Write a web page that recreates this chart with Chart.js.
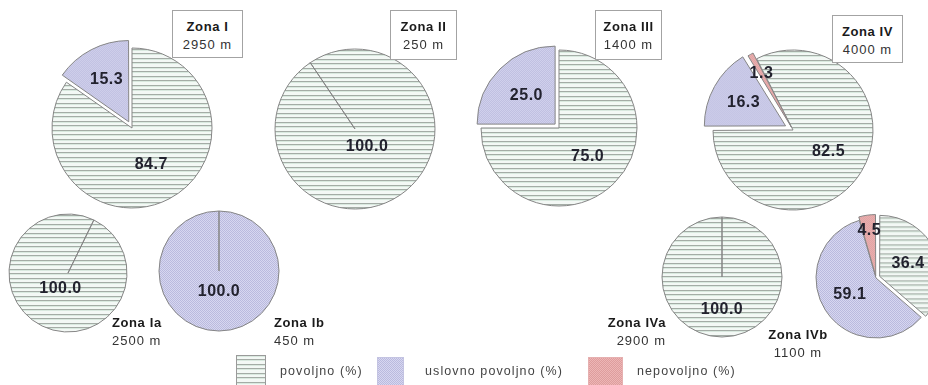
<!DOCTYPE html>
<html>
<head>
<meta charset="utf-8">
<script src="https://cdn.jsdelivr.net/npm/chart.js@4.4.0/dist/chart.umd.min.js"></script>
<style>
  body { margin: 0; background: #fff; }
  #wrap { position: relative; width: 928px; height: 385px; overflow: hidden; font-family: "Liberation Sans", Arial, sans-serif; }
  canvas.pie { position: absolute; }
  .zone { position: absolute; color: #222; font-size: 13px; line-height: 18px; letter-spacing: 0.6px; white-space: nowrap; z-index: 5; }
  .zone b { display: block; color: #1a1a1a; }
  .zone span { display: block; color: #333; letter-spacing: 1px; }
  .box { border: 1px solid #a3a3a3; background: #fff; text-align: center; padding-top: 7px; box-sizing: border-box; }
  .sw { position: absolute; }
  .lg { position: absolute; font-size: 12.5px; color: #444; letter-spacing: 1.1px; white-space: nowrap; }
</style>
</head>
<body>
<div id="wrap"></div>
<script>
'use strict';

let zones = ['Zona I', 'Zona II', 'Zona III', 'Zona IV', 'Zona Ia', 'Zona Ib', 'Zona IVa', 'Zona IVb'];
let lengths = ['2950 m', '250 m', '1400 m', '4000 m', '2500 m', '450 m', '2900 m', '1100 m'];
let categories = ['povoljno (%)', 'uslovno povoljno (%)', 'nepovoljno (%)'];
let povoljno   = [84.7, 100.0, 75.0, 82.5, 100.0, 0, 100.0, 36.4];
let uslovno    = [15.3, 0, 25.0, 16.3, 0, 100.0, 0, 59.1];
let nepovoljno = [0, 0, 0, 1.3, 0, 0, 0, 4.5];

// where each pie sits, its start angle, pulled-out slices and label spot for a full pie
let pies = [
  { x: 132, y: 128, r: 80, rot: 0,   pull: [0, 28, 0] },
  { x: 355, y: 129, r: 80, rot: -34, full: 0.27 },
  { x: 559, y: 128, r: 78, rot: 0,   pull: [0, 22, 0] },
  { x: 793, y: 130, r: 80, rot: -27, pull: [0, 34, 14] },
  { x: 68,  y: 273, r: 59, rot: 26,  full: 0.29 },
  { x: 219, y: 271, r: 60, rot: 0,   full: 0.35 },
  { x: 722, y: 277, r: 60, rot: 0,   full: 0.55 },
  { x: 876, y: 278, r: 60, rot: 0,   pull: [16, 0, 8] }
];

// zone captions: boxed on top row, plain on bottom row
let captions = [
  { l: 172, t: 10, w: 71, h: 48, box: true },
  { l: 390, t: 10, w: 67, h: 50, box: true },
  { l: 595, t: 10, w: 67, h: 50, box: true },
  { l: 832, t: 15, w: 71, h: 48, box: true },
  { l: 112, t: 314, align: 'left' },
  { l: 274, t: 314, align: 'left' },
  { l: 604, t: 314, w: 62, align: 'right' },
  { l: 762, t: 326, w: 72, align: 'center' }
];

let legendSpots = [
  { sx: 236, sy: 355, sw: 30, sh: 32, tx: 280 },
  { sx: 377, sy: 357, sw: 27, sh: 30, tx: 425 },
  { sx: 588, sy: 357, sw: 35, sh: 30, tx: 637 }
];

function tile(w, h, paint) {
  let c = document.createElement('canvas');
  c.width = w;
  c.height = h;
  paint(c.getContext('2d'));
  return c;
}

let stripeTile = tile(4, 9, function (g) {
  g.fillStyle = '#f3f8f5';
  g.fillRect(0, 0, 4, 9);
  g.fillStyle = '#a4aca6';
  g.fillRect(0, 0, 4, 1);
  g.fillRect(0, 4, 4, 1);
  g.fillStyle = '#d9e9df';
  g.fillRect(0, 1, 4, 1);
  g.fillRect(0, 5, 4, 1);
});

function dotTile(base, dot) {
  return tile(2, 2, function (g) {
    g.fillStyle = base;
    g.fillRect(0, 0, 2, 2);
    g.fillStyle = dot;
    g.fillRect(0, 0, 1, 1);
    g.fillRect(1, 1, 1, 1);
  });
}

let lilacTile = dotTile('#d7d7f0', '#babade');
let pinkTile = dotTile('#edb6b6', '#de9d9d');

let pctx = document.createElement('canvas').getContext('2d');
let fills = [
  pctx.createPattern(stripeTile, 'repeat'),
  pctx.createPattern(lilacTile, 'repeat'),
  pctx.createPattern(pinkTile, 'repeat')
];

const valueLabels = {
  id: 'valueLabels',
  afterDatasetsDraw(chart, args, opts) {
    let ctx = chart.ctx;
    let meta = chart.getDatasetMeta(0);
    let data = chart.data.datasets[0].data;
    ctx.save();
    ctx.font = 'bold 16px "Liberation Sans", Arial, sans-serif';
    ctx.letterSpacing = '0.5px';
    ctx.fillStyle = '#22222e';
    ctx.textAlign = 'center';
    ctx.textBaseline = 'middle';
    meta.data.forEach(function (arc, i) {
      let v = data[i];
      if (!v) {
        return;
      }
      let p = arc.getProps(['x', 'y', 'startAngle', 'endAngle', 'outerRadius'], true);
      let mid = (p.startAngle + p.endAngle) / 2;
      let f = v >= 99.95 ? opts.full : v >= 20 ? 0.52 : v >= 10 ? 0.6 : 0.76;
      let d = p.outerRadius * f + (arc.options.offset || 0) / 4;
      ctx.fillText(v.toFixed(1), p.x + Math.cos(mid) * d, p.y + Math.sin(mid) * d);
    });
    ctx.restore();
  }
};

let wrap = document.getElementById('wrap');

for (let i = 0; i < zones.length; i++) {
  let p = pies[i];
  let half = p.r + 26;
  let cv = document.createElement('canvas');
  cv.className = 'pie';
  cv.width = half * 2;
  cv.height = half * 2;
  cv.style.left = (p.x - half) + 'px';
  cv.style.top = (p.y - half) + 'px';
  wrap.appendChild(cv);

  new Chart(cv.getContext('2d'), {
    type: 'pie',
    data: {
      labels: categories,
      datasets: [{
        data: [povoljno[i], uslovno[i], nepovoljno[i]],
        backgroundColor: fills,
        borderColor: '#858585',
        borderWidth: 1,
        offset: p.pull || 0,
        hoverOffset: 0,
        radius: p.r,
        rotation: p.rot
      }]
    },
    options: {
      responsive: false,
      devicePixelRatio: 1,
      animation: false,
      events: [],
      layout: { padding: 0 },
      plugins: {
        legend: { display: false },
        tooltip: { enabled: false },
        valueLabels: { full: p.full || 0.3 }
      }
    },
    plugins: [valueLabels]
  });

  let c = captions[i];
  let div = document.createElement('div');
  div.className = 'zone' + (c.box ? ' box' : '');
  div.style.left = c.l + 'px';
  div.style.top = c.t + 'px';
  if (c.w) div.style.width = c.w + 'px';
  if (c.h) div.style.height = c.h + 'px';
  if (c.align) div.style.textAlign = c.align;
  div.innerHTML = '<b>' + zones[i] + '</b><span>' + lengths[i] + '</span>';
  wrap.appendChild(div);
}

// legend swatches use the same fills as the slices
let swBorders = ['#9a9a9a', '#c4c4e2', '#e6b0b0'];
for (let k = 0; k < categories.length; k++) {
  let s = legendSpots[k];
  let sw = document.createElement('canvas');
  sw.className = 'sw';
  sw.width = s.sw;
  sw.height = s.sh;
  sw.style.left = s.sx + 'px';
  sw.style.top = s.sy + 'px';
  let g = sw.getContext('2d');
  g.fillStyle = fills[k];
  g.fillRect(0, 0, s.sw, s.sh);
  g.strokeStyle = swBorders[k];
  g.strokeRect(0.5, 0.5, s.sw - 1, s.sh - 1);
  wrap.appendChild(sw);

  let t = document.createElement('div');
  t.className = 'lg';
  t.style.left = s.tx + 'px';
  t.style.top = '364px';
  t.textContent = categories[k];
  wrap.appendChild(t);
}
</script>
</body>
</html>
